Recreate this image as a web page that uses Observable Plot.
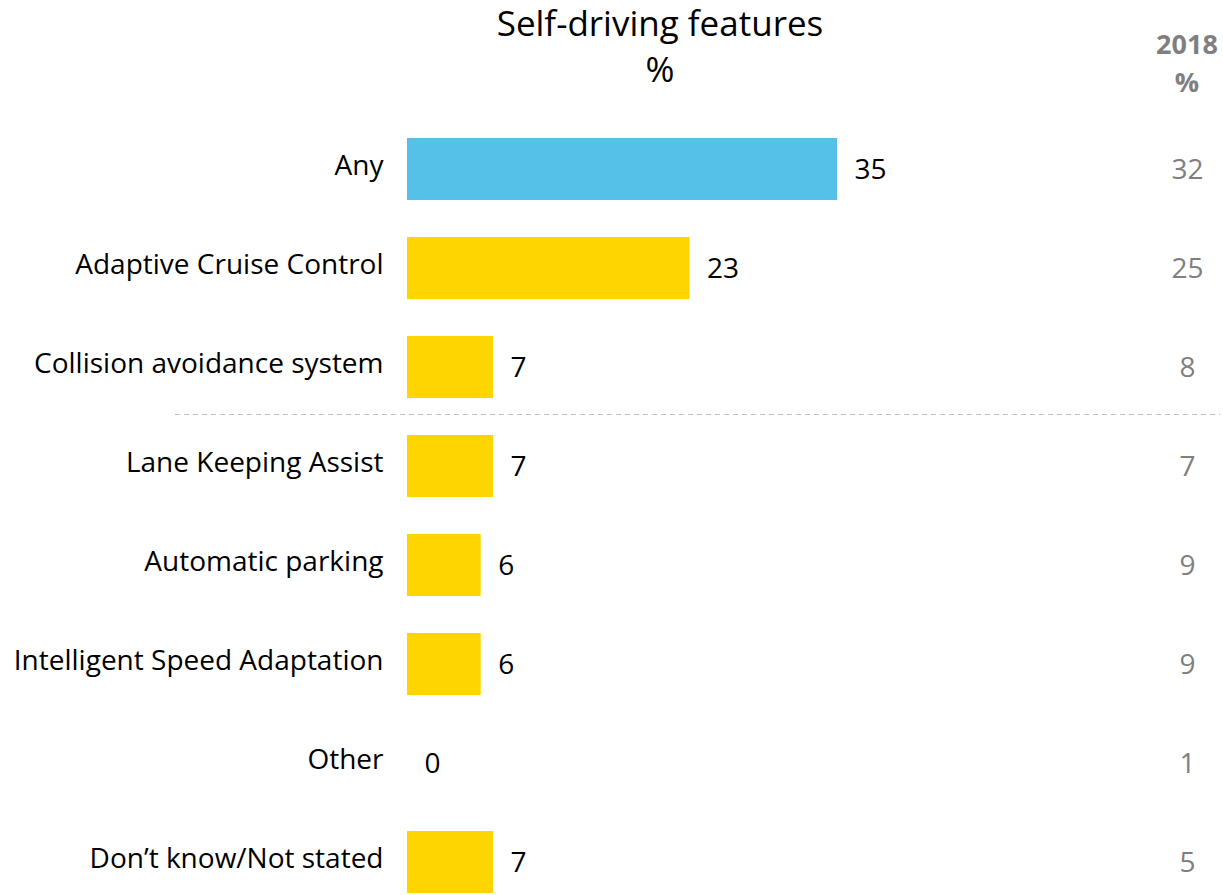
<!DOCTYPE html>
<html>
<head>
<meta charset="utf-8">
<script src="https://cdn.jsdelivr.net/npm/d3@7"></script>
<script src="https://cdn.jsdelivr.net/npm/@observablehq/plot@0.6"></script>
<style>
  html, body { margin: 0; padding: 0; background: #fff; }
  #wrap { position: relative; width: 1223px; height: 895px; overflow: hidden; font-family: "Open Sans", Lato, sans-serif; }
  #title { position: absolute; left: 410px; width: 500px; top: 0px; text-align: center; font-size: 35px; line-height: 46px; color: #000; }
  #yearhead { position: absolute; left: 1137px; width: 100px; top: 25px; text-align: center; font-size: 27px; line-height: 38px; font-weight: bold; color: #7f7f7f; }
  #chart { position: absolute; left: 0; top: 0; }
</style>
</head>
<body>
<div id="wrap">
  <div id="chart"></div>
  <div id="title">Self-driving features<br>%</div>
  <div id="yearhead">2018<br>%</div>
</div>
<script>
const categories = ["Any", "Adaptive Cruise Control", "Collision avoidance system", "Lane Keeping Assist", "Automatic parking", "Intelligent Speed Adaptation", "Other", "Don’t know/Not stated"];
const values2019 = [35, 23, 7, 7, 6, 6, 0, 7];
const values2018 = [32, 25, 8, 7, 9, 9, 1, 5];
const highlight = ["Any"];

const data = categories.map((c, i) => ({ category: c, value: values2019[i], prev: values2018[i], hi: highlight.includes(c) }));

const chart = Plot.plot({
  width: 1223,
  height: 895,
  marginLeft: 407,
  marginRight: 386,
  marginTop: 136,
  marginBottom: 0,
  style: { fontFamily: "'Open Sans', Lato, sans-serif", background: "transparent" },
  x: { domain: [0, 35], axis: null },
  y: { domain: categories, axis: null, paddingInner: 0.37, paddingOuter: 0 },
  marks: [
    Plot.barX(data, { x: "value", y: "category", fill: d => d.hi ? "#55C0E8" : "#FFD500" }),
    Plot.text(data, { x: 0, y: "category", text: "category", textAnchor: "end", dx: -24, dy: -3, fontSize: 28, fill: "#000" }),
    Plot.text(data, { x: "value", y: "category", text: d => String(d.value), textAnchor: "start", dx: 17, dy: 1, fontSize: 28, fill: "#000" }),
    Plot.text(data, { frameAnchor: "right", y: "category", text: d => String(d.prev), textAnchor: "middle", dx: 350, dy: 1, fontSize: 28, fill: "#7f7f7f" }),
    Plot.ruleY(["Lane Keeping Assist"], { y: d => d, dy: -52, insetLeft: -232, insetRight: -383, stroke: "#bfbfbf", strokeWidth: 1, strokeDasharray: "5,4" })
  ]
});
document.getElementById("chart").appendChild(chart);
</script>
</body>
</html>
